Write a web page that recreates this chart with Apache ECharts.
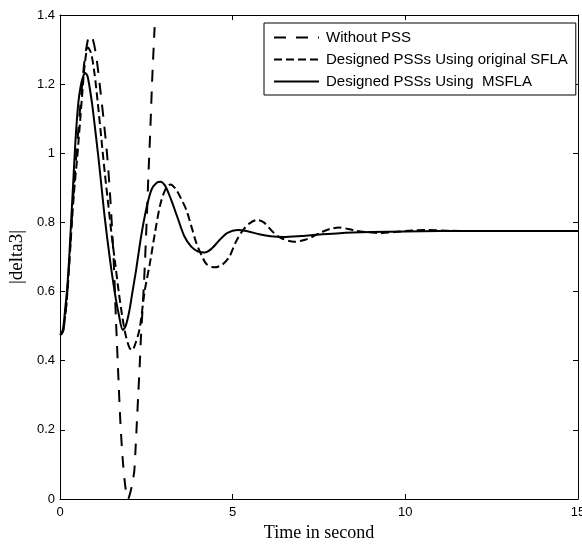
<!DOCTYPE html>
<html>
<head>
<meta charset="utf-8">
<script src="https://cdn.jsdelivr.net/npm/echarts@6/dist/echarts.min.js"></script>
<style>
html,body{margin:0;padding:0;background:#fff;}
#chart{width:582px;height:544px;}
</style>
</head>
<body>
<div id="chart"></div>
<script>
// ---- data ----
var seriesNames = ['Without PSS', 'Designed PSSs Using original SFLA', 'Designed PSSs Using  MSFLA'];
var xTicks = [0, 5, 10, 15];
var yTicks = [0, 0.2, 0.4, 0.6, 0.8, 1, 1.2, 1.4];

var tWithout = [0, 0.05, 0.1, 0.15, 0.2, 0.3, 0.4, 0.5, 0.6, 0.7, 0.8, 0.87, 0.95, 1.05, 1.16, 1.26, 1.36, 1.45, 1.55, 1.62, 1.7, 1.75, 1.82, 1.9, 1.97, 2.04, 2.1, 2.15, 2.19, 2.23, 2.27, 2.31, 2.34, 2.43, 2.5, 2.57, 2.62, 2.66, 2.7, 2.74];
var yWithout = [0.475, 0.478, 0.49, 0.53, 0.58, 0.74, 0.9, 1.03, 1.15, 1.26, 1.325, 1.342, 1.33, 1.28, 1.19, 1.1, 1.0, 0.88, 0.7, 0.52, 0.33, 0.22, 0.11, 0.03, 0.0, 0.02, 0.05, 0.08, 0.15, 0.23, 0.31, 0.39, 0.46, 0.62, 0.78, 0.96, 1.08, 1.19, 1.28, 1.365];

var tSFLA = [0, 0.05, 0.1, 0.15, 0.2, 0.25, 0.3, 0.4, 0.5, 0.58, 0.65, 0.72, 0.81, 0.9, 1.0, 1.1, 1.2, 1.3, 1.4, 1.5, 1.6, 1.7, 1.8, 1.9, 2.0, 2.08, 2.15, 2.3, 2.45, 2.6, 2.75, 2.9, 3.05, 3.2, 3.35, 3.5, 3.66, 3.8, 3.95, 4.1, 4.24, 4.48, 4.7, 4.9, 5.1, 5.3, 5.5, 5.7, 5.9, 6.16, 6.4, 6.79, 7.1, 7.32, 7.6, 7.85, 8.09, 8.35, 8.57, 9.0, 9.25, 9.7, 10.2, 10.6, 11.2, 12, 13, 14, 15];
var ySFLA = [0.475, 0.478, 0.49, 0.53, 0.58, 0.65, 0.73, 0.88, 0.99, 1.09, 1.18, 1.26, 1.306, 1.29, 1.23, 1.14, 1.04, 0.94, 0.85, 0.76, 0.68, 0.6, 0.53, 0.475, 0.44, 0.43, 0.44, 0.49, 0.6, 0.68, 0.77, 0.85, 0.895, 0.91, 0.897, 0.87, 0.836, 0.79, 0.74, 0.705, 0.68, 0.67, 0.678, 0.7, 0.745, 0.778, 0.798, 0.807, 0.8, 0.773, 0.755, 0.744, 0.75, 0.759, 0.773, 0.782, 0.785, 0.781, 0.776, 0.771, 0.769, 0.772, 0.777, 0.778, 0.776, 0.775, 0.775, 0.775, 0.775];

var tMSFLA = [0, 0.05, 0.1, 0.15, 0.2, 0.25, 0.3, 0.385, 0.45, 0.53, 0.6, 0.67, 0.73, 0.8, 0.92, 1.0, 1.11, 1.2, 1.3, 1.45, 1.59, 1.7, 1.82, 1.9, 2.0, 2.1, 2.2, 2.35, 2.5, 2.65, 2.8, 2.91, 3.05, 3.2, 3.4, 3.6, 3.8, 4.0, 4.19, 4.4, 4.62, 4.85, 5.14, 5.4, 5.8, 6.1, 6.45, 7.0, 7.5, 8.1, 9.0, 10, 11, 12, 13, 14, 15];
var yMSFLA = [0.475, 0.48, 0.5, 0.55, 0.6, 0.67, 0.76, 0.92, 1.04, 1.145, 1.195, 1.222, 1.232, 1.222, 1.15, 1.085, 0.99, 0.905, 0.81, 0.69, 0.595, 0.535, 0.489, 0.5, 0.54, 0.6, 0.66, 0.76, 0.84, 0.895, 0.915, 0.918, 0.905, 0.87, 0.815, 0.76, 0.73, 0.716, 0.713, 0.725, 0.749, 0.77, 0.778, 0.775, 0.765, 0.76, 0.758, 0.761, 0.765, 0.769, 0.772, 0.774, 0.775, 0.775, 0.775, 0.775, 0.775];

function pairs(t, y) { return t.map(function (v, i) { return [v, y[i]]; }); }

var chart = echarts.init(document.getElementById('chart'), null, {renderer: 'canvas'});

var tickFont = {color: '#000', fontFamily: 'Liberation Sans, Arial, sans-serif', fontSize: 13};
var axisLine = {show: true, onZero: false, lineStyle: {color: '#000', width: 1}};
var axisTick = {show: true, inside: true, length: 5, lineStyle: {color: '#000', width: 1}};

var option = {
  backgroundColor: '#fff',
  animation: false,
  grid: {left: 60, top: 15, right: 4, bottom: 45, containLabel: false, outerBoundsMode: 'none'},
  legend: {
    orient: 'vertical',
    left: 264,
    top: 23,
    padding: [7, 8, 6, 9],
    itemWidth: 45,
    itemHeight: 14,
    itemGap: 7,
    borderColor: '#000',
    borderWidth: 1,
    borderRadius: 0,
    backgroundColor: '#fff',
    itemStyle: {color: 'rgba(0,0,0,0)', borderWidth: 0, borderColor: 'rgba(0,0,0,0)'},
    textStyle: {color: '#000', fontFamily: 'Liberation Sans, Arial, sans-serif', fontSize: 15, padding: [0, 0, 0, 2]},
    data: seriesNames
  },
  xAxis: [{
    type: 'value', min: xTicks[0], max: xTicks[xTicks.length - 1], interval: 5,
    name: 'Time in second', nameLocation: 'middle', nameGap: 25,
    nameTextStyle: {color: '#000', fontFamily: 'Liberation Serif, Times New Roman, serif', fontSize: 18},
    axisLine: axisLine, axisTick: axisTick,
    axisLabel: Object.assign({margin: 7}, tickFont),
    splitLine: {show: false}
  }, {
    type: 'value', position: 'top', min: xTicks[0], max: xTicks[xTicks.length - 1], interval: 5,
    axisLine: axisLine, axisTick: axisTick, axisLabel: {show: false}, splitLine: {show: false}
  }],
  yAxis: [{
    type: 'value', min: yTicks[0], max: yTicks[yTicks.length - 1], interval: 0.2,
    name: '|delta3|', nameLocation: 'middle', nameGap: 32, nameRotate: 90,
    nameTextStyle: {color: '#000', fontFamily: 'Liberation Serif, Times New Roman, serif', fontSize: 19},
    axisLine: axisLine, axisTick: axisTick,
    axisLabel: Object.assign({margin: 5}, tickFont),
    splitLine: {show: false}
  }, {
    type: 'value', position: 'right', min: yTicks[0], max: yTicks[yTicks.length - 1], interval: 0.2,
    axisLine: axisLine, axisTick: axisTick, axisLabel: {show: false}, splitLine: {show: false}
  }],
  series: [{
    name: seriesNames[0], type: 'line', data: pairs(tWithout, yWithout),
    symbol: 'none', smooth: 0.3, clip: true,
    lineStyle: {color: '#000', width: 2, type: [12, 10]}, itemStyle: {color: '#000'}
  }, {
    name: seriesNames[1], type: 'line', data: pairs(tSFLA, ySFLA),
    symbol: 'none', smooth: 0.3, clip: true,
    lineStyle: {color: '#000', width: 2, type: [8, 4]}, itemStyle: {color: '#000'}
  }, {
    name: seriesNames[2], type: 'line', data: pairs(tMSFLA, yMSFLA),
    symbol: 'none', smooth: 0.3, clip: true,
    lineStyle: {color: '#000', width: 2, type: 'solid'}, itemStyle: {color: '#000'}
  }]
};
chart.setOption(option);
</script>
</body>
</html>
